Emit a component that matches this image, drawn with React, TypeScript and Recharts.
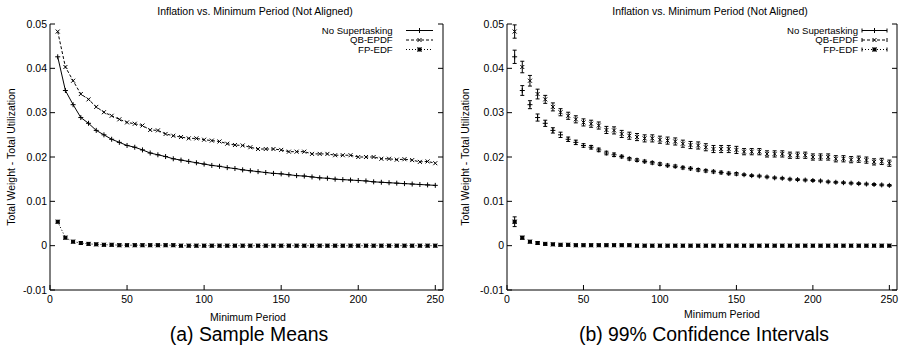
import React from 'react';
import { LineChart, Line, XAxis, YAxis, ErrorBar, Legend } from 'recharts';

// minimum period (x) for every sample
const periods = [
  5, 10, 15, 20, 25, 30, 35, 40, 45, 50, 55, 60, 65, 70, 75, 80, 85, 90, 95, 100,
  105, 110, 115, 120, 125, 130, 135, 140, 145, 150, 155, 160, 165, 170, 175, 180, 185, 190, 195, 200,
  205, 210, 215, 220, 225, 230, 235, 240, 245, 250,
];

// sample means (total weight - total utilization)
const noSupertasking = [
  0.0426, 0.0350, 0.0318, 0.0289, 0.0276, 0.0260, 0.0250, 0.0240, 0.0233, 0.0226,
  0.0222, 0.0216, 0.0209, 0.0205, 0.0201, 0.0196, 0.0193, 0.0190, 0.0187, 0.0184,
  0.0181, 0.0179, 0.0176, 0.0174, 0.0171, 0.0169, 0.0167, 0.0165, 0.0163, 0.0162,
  0.0160, 0.0158, 0.0157, 0.0155, 0.0153, 0.0152, 0.0150, 0.0149, 0.0148, 0.0147,
  0.0146, 0.0144, 0.0143, 0.0142, 0.0141, 0.0140, 0.0139, 0.0138, 0.0137, 0.0136,
];
const qbEpdf = [
  0.0483, 0.0403, 0.0372, 0.0342, 0.0330, 0.0313, 0.0301, 0.0293, 0.0285, 0.0278,
  0.0275, 0.0271, 0.0261, 0.0260, 0.0252, 0.0248, 0.0245, 0.0242, 0.0242, 0.0239,
  0.0237, 0.0235, 0.0230, 0.0227, 0.0226, 0.0222, 0.0218, 0.0218, 0.0218, 0.0216,
  0.0212, 0.0212, 0.0212, 0.0207, 0.0207, 0.0207, 0.0204, 0.0204, 0.0204, 0.0200,
  0.0200, 0.0200, 0.0196, 0.0196, 0.0194, 0.0195, 0.0193, 0.0189, 0.0190, 0.0186,
];
const fpEdf = [
  0.0054, 0.0018, 0.0009, 0.0006, 0.0004, 0.0003, 0.0002, 0.0002, 0.0001, 0.0001,
  0.0001, 0.0001, 0.0001, 0.0001, 0.0001, 0.0001, 0.0, 0.0, 0.0, 0.0,
  0.0, 0.0, 0.0, 0.0, 0.0, 0.0, 0.0, 0.0, 0.0, 0.0,
  0.0, 0.0, 0.0, 0.0, 0.0, 0.0, 0.0, 0.0, 0.0, 0.0,
  0.0, 0.0, 0.0, 0.0, 0.0, 0.0, 0.0, 0.0, 0.0, 0.0,
];

// 99% confidence interval half widths
const noSupertaskingCi = [
  0.0015, 0.0011, 0.0009, 0.0008, 0.0007, 0.0006, 0.0006, 0.0005, 0.0005, 0.0004,
  0.0004, 0.0004, 0.0004, 0.0004, 0.0003, 0.0003, 0.0003, 0.0003, 0.0003, 0.0003,
  0.0003, 0.0003, 0.0003, 0.0003, 0.0003, 0.0003, 0.0003, 0.0003, 0.0003, 0.0003,
  0.0002, 0.0002, 0.0002, 0.0002, 0.0002, 0.0002, 0.0002, 0.0002, 0.0002, 0.0002,
  0.0002, 0.0002, 0.0002, 0.0002, 0.0002, 0.0002, 0.0002, 0.0002, 0.0002, 0.0002,
];
const qbEpdfCi = [
  0.0015, 0.0013, 0.0012, 0.0011, 0.0009, 0.0009, 0.0008, 0.0008, 0.0008, 0.0008,
  0.0008, 0.0008, 0.0008, 0.0008, 0.0008, 0.0008, 0.0008, 0.0008, 0.0008, 0.0008,
  0.0008, 0.0008, 0.0008, 0.0008, 0.0008, 0.0008, 0.0008, 0.0008, 0.0008, 0.0008,
  0.0007, 0.0007, 0.0007, 0.0007, 0.0007, 0.0007, 0.0007, 0.0007, 0.0007, 0.0007,
  0.0007, 0.0007, 0.0007, 0.0007, 0.0007, 0.0007, 0.0007, 0.0007, 0.0007, 0.0007,
];
const fpEdfCi = [
  0.0011, 0.0003, 0.0002, 0.0002, 0.0001, 0.0001, 0.0001, 0.0001, 0.0001, 0.0001,
  0.0001, 0.0001, 0.0001, 0.0001, 0.0001, 0.0001, 0.0001, 0.0001, 0.0001, 0.0001,
  0.0001, 0.0001, 0.0001, 0.0001, 0.0001, 0.0001, 0.0001, 0.0001, 0.0001, 0.0001,
  0.0001, 0.0001, 0.0001, 0.0001, 0.0001, 0.0001, 0.0001, 0.0001, 0.0001, 0.0001,
  0.0001, 0.0001, 0.0001, 0.0001, 0.0001, 0.0001, 0.0001, 0.0001, 0.0001, 0.0001,
];

const xTicks = [0, 50, 100, 150, 200, 250];
const yTicks = [-0.01, 0, 0.01, 0.02, 0.03, 0.04, 0.05];
const xDomain = [0, 255];
const yDomain = [-0.01, 0.05];

const seriesNames = ['No Supertasking', 'QB-EPDF', 'FP-EDF'];

const rows = periods.map((p, i) => ({
  period: p,
  noSuper: noSupertasking[i],
  qb: qbEpdf[i],
  fp: fpEdf[i],
  noSuperErr: noSupertaskingCi[i],
  qbErr: qbEpdfCi[i],
  fpErr: fpEdfCi[i],
}));

const FONT = '"Liberation Sans", Arial, Helvetica, sans-serif';
const FS = 10.5;
const KEY_FS = 9.6;

// gnuplot style point markers
const Plus = ({ cx, cy }: any) => (
  <g stroke="#000" strokeWidth={1}>
    <line x1={cx - 2.5} y1={cy} x2={cx + 2.5} y2={cy} />
    <line x1={cx} y1={cy - 2.5} x2={cx} y2={cy + 2.5} />
  </g>
);
const Cross = ({ cx, cy }: any) => (
  <g stroke="#000" strokeWidth={1}>
    <line x1={cx - 2} y1={cy - 2} x2={cx + 2} y2={cy + 2} />
    <line x1={cx - 2} y1={cy + 2} x2={cx + 2} y2={cy - 2} />
  </g>
);
const Star = ({ cx, cy }: any) => (
  <g stroke="#000" strokeWidth={1}>
    <rect x={cx - 1.5} y={cy - 1.5} width={3} height={3} fill="#000" />
    <line x1={cx - 2} y1={cy - 2} x2={cx + 2} y2={cy + 2} />
    <line x1={cx - 2} y1={cy + 2} x2={cx + 2} y2={cy - 2} />
  </g>
);
const markers = [Plus, Cross, Star];
const dashes = [undefined, '3 2', '1 2'];

const dotOf = (M: any) => (p: any) => <M key={`${p.dataKey}-${p.index}`} cx={p.cx} cy={p.cy} />;

const fmtY = (v: number) => (v === 0 ? '0' : v.toFixed(2));

// inward ticks like gnuplot, labels outside
const BottomTick = (p: any) => (
  <g>
    <line x1={p.x} y1={p.y} x2={p.x} y2={p.y - 5} stroke="#000" />
    <text x={p.x} y={p.y + 12.5} textAnchor="middle" fontSize={FS} fontFamily={FONT} fill="#000">
      {p.payload.value}
    </text>
  </g>
);
const TopTick = (p: any) => <line x1={p.x} y1={p.y} x2={p.x} y2={p.y + 5} stroke="#000" />;
const LeftTick = (p: any) => (
  <g>
    <line x1={p.x} y1={p.y} x2={p.x + 5} y2={p.y} stroke="#000" />
    <text x={p.x - 3} y={p.y + 3.8} textAnchor="end" fontSize={FS} fontFamily={FONT} fill="#000">
      {fmtY(p.payload.value)}
    </text>
  </g>
);
const RightTick = (p: any) => <line x1={p.x} y1={p.y} x2={p.x - 5} y2={p.y} stroke="#000" />;

function KeyBox({ textEnd, x1, x2, caps }: { textEnd: number; x1: number; x2: number; caps: boolean }) {
  const rowY = [9.5, 19, 28.5];
  const mid = (x1 + x2) / 2;
  return (
    <svg width={150} height={36} style={{ display: 'block', overflow: 'visible' }}>
      {seriesNames.map((name, i) => {
        const M = markers[i];
        const y = rowY[i];
        return (
          <g key={name}>
            <text x={textEnd} y={y + 3.4} textAnchor="end" fontSize={KEY_FS} fontFamily={FONT} fill="#000">
              {name}
            </text>
            <line x1={x1} y1={y} x2={x2} y2={y} stroke="#000" strokeDasharray={dashes[i]} />
            {caps && (
              <>
                <line x1={x1} y1={y - 2} x2={x1} y2={y + 2} stroke="#000" />
                <line x1={x2} y1={y - 2} x2={x2} y2={y + 2} stroke="#000" />
              </>
            )}
            <M cx={mid} cy={y} />
          </g>
        );
      })}
    </svg>
  );
}

function Panel({ width, leftW, rightW, withCi }: { width: number; leftW: number; rightW: number; withCi: boolean }) {
  const keys = ['noSuper', 'qb', 'fp'];
  return (
    <LineChart width={width} height={349} data={rows} margin={{ top: 24, right: 0, bottom: 0, left: 0 }}>
      <XAxis
        dataKey="period"
        type="number"
        domain={xDomain}
        ticks={xTicks}
        allowDataOverflow
        height={59}
        tickSize={0}
        tickMargin={0}
        tick={BottomTick}
        axisLine={{ stroke: '#000' }}
      />
      <XAxis
        xAxisId="top"
        orientation="top"
        dataKey="period"
        type="number"
        domain={xDomain}
        ticks={xTicks}
        allowDataOverflow
        height={0}
        tickSize={0}
        tickMargin={0}
        tick={TopTick}
        axisLine={{ stroke: '#000' }}
      />
      <YAxis
        type="number"
        domain={yDomain}
        ticks={yTicks}
        allowDataOverflow
        width={leftW}
        tickSize={0}
        tickMargin={0}
        tick={LeftTick}
        axisLine={{ stroke: '#000' }}
      />
      <YAxis
        yAxisId="right"
        orientation="right"
        type="number"
        domain={yDomain}
        ticks={yTicks}
        allowDataOverflow
        width={rightW}
        tickSize={0}
        tickMargin={0}
        tick={RightTick}
        axisLine={{ stroke: '#000' }}
      />
      {keys.map((k, i) => (
        <Line
          key={k}
          dataKey={k}
          name={seriesNames[i]}
          type="linear"
          stroke={withCi ? 'none' : '#000'}
          strokeWidth={1}
          strokeDasharray={withCi ? undefined : dashes[i]}
          dot={dotOf(markers[i])}
          activeDot={false}
          isAnimationActive={false}
        >
          {withCi && (
            <ErrorBar dataKey={`${k}Err`} direction="y" width={2} stroke="#000" strokeWidth={1} />
          )}
        </Line>
      ))}
      <Legend
        layout="vertical"
        align="center"
        verticalAlign="middle"
        wrapperStyle={{ left: 300, top: 21, width: 150 }}
        content={() =>
          withCi ? (
            <KeyBox textEnd={108} x1={112} x2={137} caps />
          ) : (
            <KeyBox textEnd={92.7} x1={106} x2={133} caps={false} />
          )
        }
      />
    </LineChart>
  );
}

const txt: React.CSSProperties = {
  position: 'absolute',
  transform: 'translate(-50%, -50%)',
  whiteSpace: 'nowrap',
  lineHeight: 1,
  fontFamily: FONT,
  color: '#000',
};

export default function App() {
  return (
    <div style={{ position: 'absolute', left: 0, top: 0, width: 905, height: 349, background: '#fff', overflow: 'hidden' }}>
      <div style={{ position: 'absolute', left: 0, top: 0 }}>
        <Panel width={450} leftW={50} rightW={7} withCi={false} />
      </div>
      <div style={{ position: 'absolute', left: 450, top: 0 }}>
        <Panel width={455} leftW={57} rightW={8} withCi />
      </div>

      <div style={{ ...txt, left: 255, top: 11, fontSize: FS }}>Inflation vs. Minimum Period (Not Aligned)</div>
      <div style={{ ...txt, left: 710, top: 11, fontSize: FS }}>Inflation vs. Minimum Period (Not Aligned)</div>

      <div style={{ ...txt, left: 11, top: 157, fontSize: FS, transform: 'translate(-50%, -50%) rotate(-90deg)' }}>
        Total Weight - Total Utilization
      </div>
      <div style={{ ...txt, left: 465, top: 157, fontSize: FS, transform: 'translate(-50%, -50%) rotate(-90deg)' }}>
        Total Weight - Total Utilization
      </div>

      <div style={{ ...txt, left: 248, top: 316.5, fontSize: FS }}>Minimum Period</div>
      <div style={{ ...txt, left: 722, top: 314, fontSize: FS }}>Minimum Period</div>

      <div style={{ ...txt, left: 249, top: 335, fontSize: 19.4 }}>(a) Sample Means</div>
      <div style={{ ...txt, left: 704, top: 335, fontSize: 19.4 }}>(b) 99% Confidence Intervals</div>
    </div>
  );
}
